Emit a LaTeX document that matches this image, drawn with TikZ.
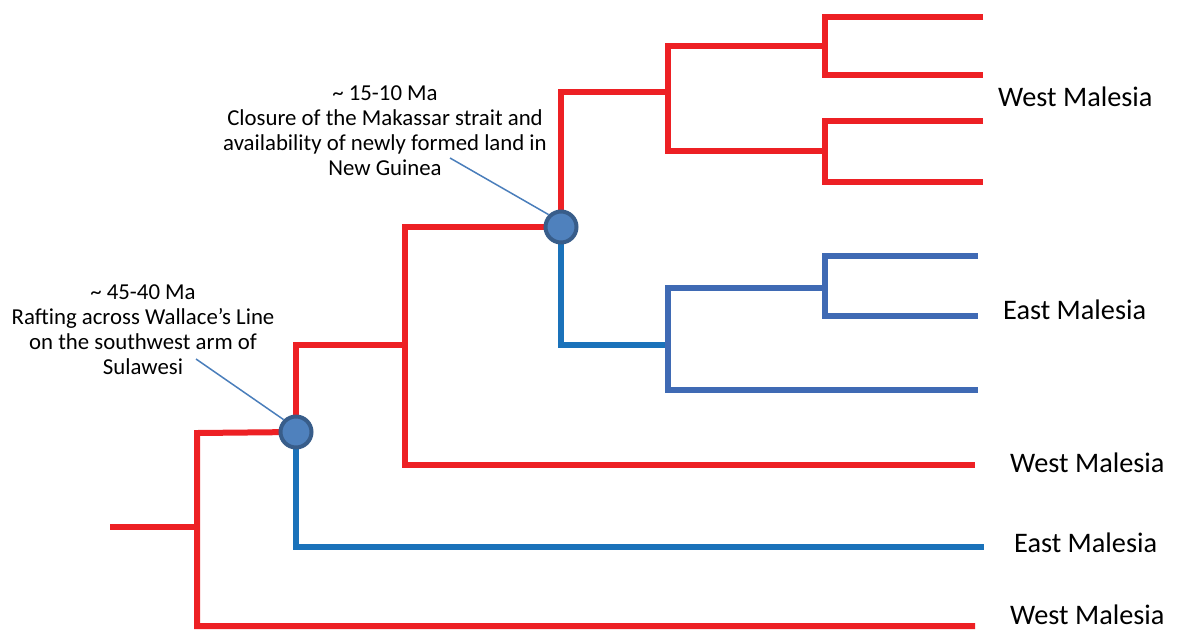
\documentclass[tikz,border=0pt]{standalone}
\usepackage{fontspec}
\setmainfont{Carlito}
\usetikzlibrary{backgrounds}
\definecolor{tred}{HTML}{ED2024}
\definecolor{tblue}{HTML}{1A72BA}
\definecolor{tblueb}{HTML}{3F6AB4}
\definecolor{hubfill}{HTML}{4F81BD}
\definecolor{hubline}{HTML}{385D8A}
\definecolor{leader}{HTML}{4A7EBB}
\tikzset{
  redl/.style={draw=tred,line width=6pt,line join=miter},
  bluel/.style={draw=tblue,line width=6pt,line join=miter},
  bluelb/.style={draw=tblueb,line width=6pt,line join=miter},
  hub/.style={circle,fill=hubfill,draw=hubline,line width=4pt,minimum size=31pt,inner sep=0pt},
  leaderl/.style={draw=leader,line width=1.5pt},
  note/.style={align=center,font=\fontsize{22.8}{25}\selectfont,inner sep=0pt},
  tiplabel/.style={anchor=west,font=\fontsize{28.3}{32}\selectfont,inner sep=0pt},
}
\begin{document}
\begin{tikzpicture}[x=1pt,y=-1pt]
\useasboundingbox (0,0) rectangle (1177,630);
% hubs
\node[hub] (n1) at (296,432) {};
\node[hub] (n2) at (561,227) {};
% branch coordinates
\coordinate (r0) at (110,527);
\coordinate (r1) at (197,527);
\coordinate (rt) at (197,433);
\coordinate (leafW3) at (975,626);
\coordinate (a2) at (405,345);
\coordinate (leafE2) at (984,547);
\coordinate (a3) at (405,227);
\coordinate (leafW2) at (975,465);
\coordinate (b1) at (668,92);
\coordinate (b1t) at (825,46);
\coordinate (b1b) at (825,151);
\coordinate (c1t) at (983,17);
\coordinate (c1b) at (983,75);
\coordinate (c2t) at (983,121);
\coordinate (c2b) at (983,182);
\coordinate (e1) at (668,345);
\coordinate (e1t) at (825,288);
\coordinate (e1b) at (978,390);
\coordinate (d1t) at (978,256);
\coordinate (d1b) at (978,316);
% labels
\node[tiplabel] (lw1) at (998,97) {West Malesia};
\node[tiplabel] (le1) at (1003,310) {East Malesia};
\node[tiplabel] (lw2) at (1010,463) {West Malesia};
\node[tiplabel] (le2) at (1014,543) {East Malesia};
\node[tiplabel] (lw3) at (1010,615) {West Malesia};
% notes
\node[note,anchor=base] (t1) at (143,374) {\textasciitilde\ 45-40 Ma\\Rafting across Wallace’s Line\\on the southwest arm of\\Sulawesi};
\node[note,anchor=base] (t2) at (385,175) {\textasciitilde\ 15-10 Ma\\Closure of the Makassar strait and\\availability of newly formed land in\\New Guinea};
\coordinate (p1) at (196,359);
\coordinate (p2) at (450,158);
\begin{pgfonlayer}{background}
\draw[redl] (r0) -- (r1);
\draw[redl] (n1.center) -- (rt) -- (leafW3 -| rt) -- (leafW3);
\draw[redl] (n1.center) |- (a2);
\draw[bluel] (n1.center) |- (leafE2);
\draw[redl] (n2.center) -- (a3) |- (leafW2);
\draw[redl] (n2.center) |- (b1);
\draw[redl] (b1t) -| (b1b -| b1) -- (b1b);
\draw[redl] (c1t) -| (c1b -| b1t) -- (c1b);
\draw[redl] (c2t) -| (c2b -| b1t) -- (c2b);
\draw[bluel] (n2.center) |- (e1);
\draw[bluelb] (e1t) -| (e1b -| e1) -- (e1b);
\draw[bluelb] (d1t) -| (d1b -| e1t) -- (d1b);
\end{pgfonlayer}
\draw[leaderl] (p1) -- (n1.north west);
\draw[leaderl] (p2) -- (n2.north west);
\end{tikzpicture}
\end{document}
